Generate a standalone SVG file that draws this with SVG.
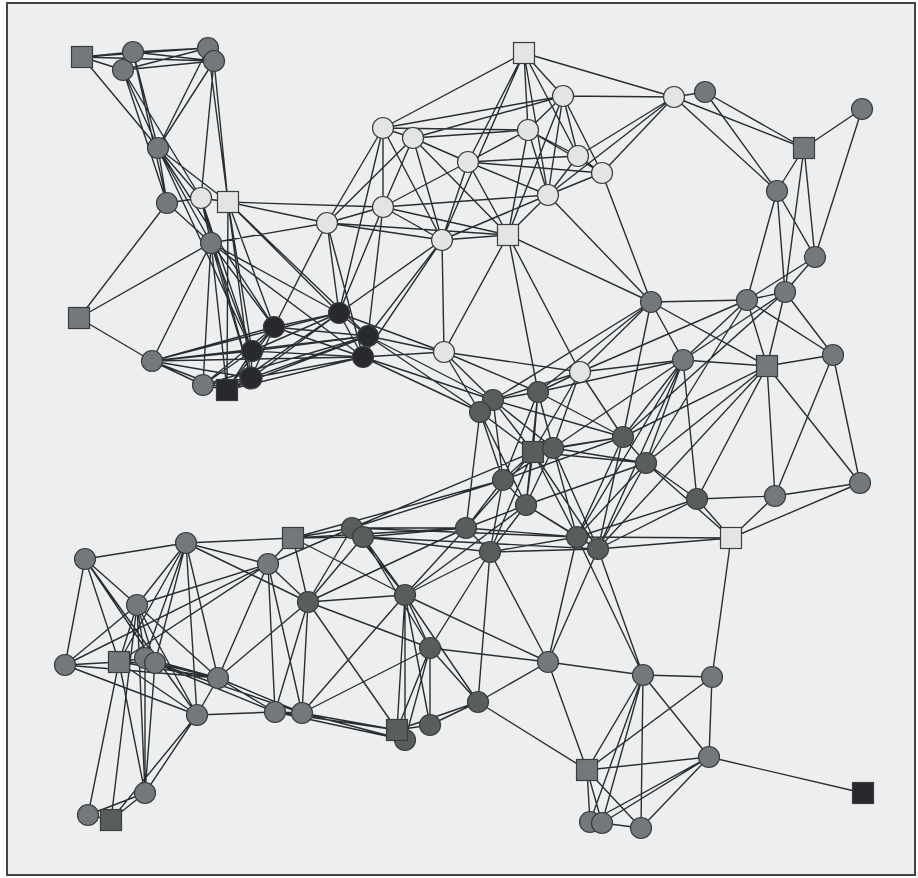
<svg xmlns="http://www.w3.org/2000/svg" width="918" height="878" viewBox="0 0 918 878">
<style>
.e path{stroke:#2a2e30;stroke-width:1.4;fill:none}
.n circle,.n rect{stroke:#3a3d3e;stroke-width:1.2}
.g circle,.g rect{fill:#74787a}
.m circle,.m rect{fill:#585d5e}
.d circle,.d rect{fill:#28292c}
.l circle,.l rect{fill:#e3e4e4}
</style>
<rect x="0" y="0" width="918" height="878" fill="#ffffff"/>
<rect x="7" y="3" width="908" height="872" fill="#edeeef" stroke="#444" stroke-width="2"/>
<g id="connectors" class="e">
<path d="M82 57L133 52M82 57L123 70M82 57L208 48M82 57L214 61M133 52L208 48M133 52L214 61M123 70L208 48M123 70L214 61M133 52L123 70M208 48L214 61M82 57L158 148M133 52L158 148M123 70L158 148M133 52L167 203M123 70L167 203M123 70L201 198M208 48L158 148M214 61L158 148M214 61L201 198M214 61L228 202M208 48L228 202M158 148L167 203M158 148L201 198M158 148L228 202M158 148L211 243M158 148L252 351M158 148L274 327M167 203L201 198M167 203L211 243M167 203L79 318M201 198L228 202M201 198L211 243M201 198L251 378M201 198L252 351"/>
<path d="M228 202L383 207M228 202L327 223M228 202L274 327M228 202L252 351M228 202L251 378M228 202L339 313M228 202L368 336M228 202L227 390M211 243L79 318M211 243L152 361M211 243L203 385M211 243L227 390M211 243L251 378M211 243L252 351M211 243L274 327M211 243L327 223M211 243L339 313M211 243L363 357M79 318L152 361M152 361L203 385M152 361L227 390M152 361L251 378M152 361L252 351M152 361L274 327M152 361L339 313M152 361L368 336M152 361L363 357M203 385L227 390M203 385L251 378M203 385L252 351M203 385L274 327M203 385L368 336"/>
<path d="M227 390L251 378M227 390L252 351M227 390L274 327M227 390L339 313M227 390L368 336M227 390L363 357M251 378L252 351M251 378L274 327M251 378L339 313M251 378L368 336M251 378L363 357M252 351L274 327M252 351L339 313M252 351L368 336M252 351L363 357M274 327L339 313M274 327L368 336M274 327L363 357M274 327L327 223M339 313L368 336M339 313L363 357M339 313L327 223M339 313L383 207M339 313L442 240M339 313L383 128M339 313L444 352M368 336L363 357M368 336L383 207M368 336L442 240M368 336L444 352M368 336L493 400M368 336L480 412M363 357L444 352M363 357L493 400M363 357L480 412M363 357L442 240M363 357L327 223"/>
<path d="M524 53L383 128M524 53L468 162M524 53L442 240M524 53L528 130M524 53L548 195M524 53L563 96M524 53L674 97M524 53L578 156M563 96L413 138M563 96L528 130M563 96L578 156M563 96L602 173M563 96L548 195M563 96L508 235M563 96L674 97M563 96L383 128M383 128L413 138M383 128L383 207M383 128L327 223M383 128L442 240M383 128L528 130M413 138L528 130M413 138L468 162M413 138L383 207M413 138L327 223M413 138L442 240M413 138L508 235M528 130L468 162M528 130L578 156M528 130L548 195M528 130L508 235M528 130L602 173M468 162L578 156M468 162L602 173M468 162L548 195M468 162L383 207M468 162L442 240M468 162L508 235M578 156L602 173M578 156L548 195M578 156L674 97M602 173L548 195M602 173L674 97M602 173L651 302M548 195L508 235M548 195L442 240M548 195L651 302M548 195L674 97M548 195L383 207M383 207L327 223M383 207L442 240M383 207L508 235M327 223L442 240M327 223L508 235M442 240L508 235M442 240L444 352"/>
<path d="M508 235L444 352M508 235L580 372M508 235L538 392M508 235L651 302M444 352L580 372M444 352L493 400M444 352L480 412M444 352L538 392M580 372L538 392M580 372L493 400M580 372L651 302M580 372L683 360M580 372L623 437M580 372L553 448M580 372L533 452M580 372L747 300M674 97L705 92M674 97L804 148M674 97L777 191"/>
<path d="M705 92L804 148M705 92L777 191M862 109L804 148M862 109L815 257M804 148L777 191M804 148L815 257M804 148L785 292M777 191L815 257M777 191L785 292M777 191L747 300M815 257L785 292M815 257L747 300M785 292L747 300M785 292L683 360M785 292L767 366M785 292L833 355M785 292L623 437M747 300L651 302M747 300L683 360M747 300L767 366M747 300L833 355M747 300L646 463M651 302L683 360M651 302L767 366M651 302L623 437M651 302L538 392M651 302L493 400M683 360L767 366M683 360L623 437M683 360L646 463M683 360L697 499M683 360L538 392M683 360L553 448M683 360L577 537M683 360L598 549M767 366L833 355M767 366L623 437M767 366L646 463M767 366L697 499M767 366L775 496M767 366L860 483M767 366L598 549M833 355L775 496M833 355L860 483"/>
<path d="M623 437L646 463M623 437L538 392M623 437L533 452M623 437L553 448M623 437L503 480M623 437L577 537M623 437L598 549M623 437L493 400M646 463L697 499M646 463L731 538M646 463L533 452M646 463L553 448M646 463L577 537M646 463L598 549M646 463L526 505M697 499L775 496M697 499L731 538M697 499L577 537M697 499L598 549M775 496L860 483M775 496L731 538M860 483L731 538M731 538L598 549M731 538L577 537M731 538L712 677"/>
<path d="M493 400L480 412M493 400L538 392M493 400L533 452M493 400L503 480M493 400L553 448M480 412L503 480M480 412L466 528M480 412L533 452M480 412L526 505M538 392L533 452M538 392L553 448M538 392L503 480M538 392L526 505M533 452L553 448M533 452L503 480M533 452L526 505M533 452L466 528M533 452L490 552M533 452L577 537M533 452L598 549M533 452L352 528M553 448L526 505M553 448L577 537M553 448L598 549M553 448L503 480M503 480L526 505M503 480L466 528M503 480L490 552M503 480L352 528M503 480L293 538M526 505L466 528M526 505L490 552M526 505L577 537M526 505L598 549M526 505L405 595M466 528L490 552M466 528L352 528M466 528L363 537M466 528L577 537M466 528L405 595M466 528L293 538M466 528L308 602M490 552L577 537M490 552L598 549M490 552L405 595M490 552L430 648M490 552L548 662M490 552L478 702M490 552L363 537M352 528L363 537M352 528L293 538M352 528L268 564M352 528L308 602M352 528L405 595M352 528L577 537M363 537L405 595M363 537L430 648M363 537L598 549M363 537L308 602M577 537L598 549M577 537L548 662M577 537L643 675M598 549L548 662M598 549L643 675"/>
<path d="M85 559L186 543M85 559L137 605M85 559L65 665M85 559L119 662M85 559L155 663M85 559L197 715M186 543L293 538M186 543L268 564M186 543L137 605M186 543L119 662M186 543L145 658M186 543L155 663M186 543L218 678M186 543L308 602M186 543L197 715M293 538L268 564M293 538L308 602M293 538L405 595M293 538L363 537M268 564L137 605M268 564L308 602M268 564L218 678M268 564L275 712M268 564L302 713M268 564L119 662M268 564L65 665M137 605L65 665M137 605L119 662M137 605L145 658M137 605L155 663M137 605L218 678M137 605L197 715M137 605L145 793M137 605L111 820M308 602L405 595M308 602L275 712M308 602L302 713M308 602L397 730M308 602L430 648M308 602L218 678M405 595L430 648M405 595L397 730M405 595L405 740M405 595L430 725M405 595L548 662M405 595L302 713M405 595L478 702"/>
<path d="M65 665L119 662M65 665L218 678M65 665L197 715M119 662L145 658M119 662L155 663M119 662L197 715M119 662L88 815M119 662L145 793M119 662L218 678M145 658L155 663M145 658L218 678M145 658L145 793M155 663L218 678M155 663L275 712M155 663L302 713M155 663L145 793M218 678L197 715M218 678L275 712M218 678L302 713M197 715L275 712M197 715L145 793M197 715L111 820M275 712L302 713M275 712L397 730M275 712L405 740M302 713L397 730M302 713L430 648M302 713L405 740M430 648L548 662M430 648L397 730M430 648L430 725M430 648L478 702M430 648L405 740M548 662L478 702M548 662L587 770M548 662L643 675M478 702L430 725M478 702L397 730M478 702L587 770M397 730L405 740M397 730L430 725M145 793L111 820M88 815L111 820M145 793L88 815"/>
<path d="M643 675L712 677M643 675L709 757M643 675L641 828M643 675L602 823M643 675L590 822M643 675L587 770M712 677L709 757M712 677L587 770M709 757L863 793M709 757L641 828M709 757L602 823M709 757L590 822M709 757L587 770M641 828L602 823M587 770L602 823M587 770L590 822M587 770L641 828"/>
</g>
<g id="nodes">
<g id="A1" class="n g"><rect x="71.5" y="46.5" width="21" height="21"/></g>
<g id="A3" class="n g"><circle cx="123" cy="70" r="10.5"/></g>
<g id="A2" class="n g"><circle cx="133" cy="52" r="10.5"/></g>
<g id="A4" class="n g"><circle cx="208" cy="48" r="10.5"/></g>
<g id="A5" class="n g"><circle cx="214" cy="61" r="10.5"/></g>
<g id="A6" class="n g"><circle cx="158" cy="148" r="10.5"/></g>
<g id="A7" class="n g"><circle cx="167" cy="203" r="10.5"/></g>
<g id="A8" class="n l"><circle cx="201" cy="198" r="10.5"/></g>
<g id="A9" class="n l"><rect x="217.5" y="191.5" width="21" height="21"/></g>
<g id="A10" class="n g"><circle cx="211" cy="243" r="10.5"/></g>
<g id="A11" class="n g"><rect x="68.5" y="307.5" width="21" height="21"/></g>
<g id="A12" class="n g"><circle cx="152" cy="361" r="10.5"/></g>
<g id="A13" class="n g"><circle cx="203" cy="385" r="10.5"/></g>
<g id="D4" class="n d"><circle cx="274" cy="327" r="10.5"/></g>
<g id="D3" class="n d"><circle cx="252" cy="351" r="10.5"/></g>
<g id="D2" class="n d"><circle cx="251" cy="378" r="11"/></g>
<g id="D1" class="n d"><rect x="216.5" y="379.5" width="21" height="21"/></g>
<g id="D5" class="n d"><circle cx="339" cy="313" r="10.5"/></g>
<g id="D6" class="n d"><circle cx="368" cy="336" r="10.5"/></g>
<g id="D7" class="n d"><circle cx="363" cy="357" r="10.5"/></g>
<g id="L1" class="n l"><rect x="513.5" y="42.5" width="21" height="21"/></g>
<g id="L2" class="n l"><circle cx="563" cy="96" r="10.5"/></g>
<g id="L3" class="n l"><circle cx="383" cy="128" r="10.5"/></g>
<g id="L4" class="n l"><circle cx="413" cy="138" r="10.5"/></g>
<g id="L5" class="n l"><circle cx="528" cy="130" r="10.5"/></g>
<g id="L6" class="n l"><circle cx="468" cy="162" r="10.5"/></g>
<g id="L7" class="n l"><circle cx="578" cy="156" r="10.5"/></g>
<g id="L8" class="n l"><circle cx="602" cy="173" r="10.5"/></g>
<g id="L9" class="n l"><circle cx="548" cy="195" r="10.5"/></g>
<g id="L10" class="n l"><circle cx="383" cy="207" r="10.5"/></g>
<g id="L11" class="n l"><circle cx="327" cy="223" r="10.5"/></g>
<g id="L12" class="n l"><circle cx="442" cy="240" r="10.5"/></g>
<g id="L13" class="n l"><rect x="497.5" y="224.5" width="21" height="21"/></g>
<g id="L14" class="n l"><circle cx="444" cy="352" r="10.5"/></g>
<g id="L15" class="n l"><circle cx="580" cy="372" r="10.5"/></g>
<g id="L16" class="n l"><circle cx="674" cy="97" r="10.5"/></g>
<g id="R1" class="n g"><circle cx="705" cy="92" r="10.5"/></g>
<g id="R2" class="n g"><circle cx="862" cy="109" r="10.5"/></g>
<g id="R3" class="n g"><rect x="793.5" y="137.5" width="21" height="21"/></g>
<g id="R4" class="n g"><circle cx="777" cy="191" r="10.5"/></g>
<g id="R5" class="n g"><circle cx="815" cy="257" r="10.5"/></g>
<g id="R6" class="n g"><circle cx="785" cy="292" r="10.5"/></g>
<g id="R7" class="n g"><circle cx="747" cy="300" r="10.5"/></g>
<g id="R8" class="n g"><circle cx="651" cy="302" r="10.5"/></g>
<g id="R9" class="n g"><circle cx="683" cy="360" r="10.5"/></g>
<g id="R10" class="n g"><rect x="756.5" y="355.5" width="21" height="21"/></g>
<g id="R11" class="n g"><circle cx="833" cy="355" r="10.5"/></g>
<g id="R12" class="n m"><circle cx="623" cy="437" r="10.5"/></g>
<g id="R13" class="n m"><circle cx="646" cy="463" r="10.5"/></g>
<g id="R14" class="n m"><circle cx="697" cy="499" r="10.5"/></g>
<g id="R15" class="n g"><circle cx="775" cy="496" r="10.5"/></g>
<g id="R16" class="n g"><circle cx="860" cy="483" r="10.5"/></g>
<g id="R17" class="n l"><rect x="720.5" y="527.5" width="21" height="21"/></g>
<g id="M1" class="n m"><circle cx="493" cy="400" r="10.5"/></g>
<g id="M2" class="n m"><circle cx="480" cy="412" r="10.5"/></g>
<g id="M3" class="n m"><circle cx="538" cy="392" r="10.5"/></g>
<g id="M4" class="n m"><rect x="522.5" y="441.5" width="21" height="21"/></g>
<g id="M5" class="n m"><circle cx="553" cy="448" r="10.5"/></g>
<g id="M6" class="n m"><circle cx="503" cy="480" r="10.5"/></g>
<g id="M7" class="n m"><circle cx="526" cy="505" r="10.5"/></g>
<g id="M8" class="n m"><circle cx="466" cy="528" r="10.5"/></g>
<g id="M9" class="n m"><circle cx="490" cy="552" r="10.5"/></g>
<g id="M10" class="n m"><circle cx="352" cy="528" r="10.5"/></g>
<g id="M11" class="n m"><circle cx="363" cy="537" r="10.5"/></g>
<g id="M12" class="n m"><circle cx="577" cy="537" r="10.5"/></g>
<g id="M13" class="n m"><circle cx="598" cy="549" r="10.5"/></g>
<g id="B1" class="n g"><circle cx="85" cy="559" r="10.5"/></g>
<g id="B2" class="n g"><circle cx="186" cy="543" r="10.5"/></g>
<g id="B3" class="n g"><rect x="282.5" y="527.5" width="21" height="21"/></g>
<g id="B4" class="n g"><circle cx="268" cy="564" r="10.5"/></g>
<g id="B5" class="n g"><circle cx="137" cy="605" r="10.5"/></g>
<g id="B6" class="n m"><circle cx="308" cy="602" r="10.5"/></g>
<g id="B7" class="n m"><circle cx="405" cy="595" r="10.5"/></g>
<g id="B8" class="n g"><circle cx="65" cy="665" r="10.5"/></g>
<g id="B9" class="n g"><rect x="108.5" y="651.5" width="21" height="21"/></g>
<g id="B10" class="n g"><circle cx="145" cy="658" r="10.5"/></g>
<g id="B11" class="n g"><circle cx="155" cy="663" r="10.5"/></g>
<g id="B12" class="n g"><circle cx="218" cy="678" r="10.5"/></g>
<g id="B13" class="n g"><circle cx="197" cy="715" r="10.5"/></g>
<g id="B14" class="n g"><circle cx="275" cy="712" r="10.5"/></g>
<g id="B15" class="n g"><circle cx="302" cy="713" r="10.5"/></g>
<g id="B16" class="n m"><circle cx="430" cy="648" r="10.5"/></g>
<g id="B17" class="n g"><circle cx="548" cy="662" r="10.5"/></g>
<g id="B18" class="n m"><circle cx="478" cy="702" r="10.5"/></g>
<g id="B20" class="n m"><circle cx="405" cy="740" r="10.5"/></g>
<g id="B19" class="n m"><rect x="386.5" y="719.5" width="21" height="21"/></g>
<g id="B21" class="n m"><circle cx="430" cy="725" r="10.5"/></g>
<g id="B22" class="n g"><circle cx="145" cy="793" r="10.5"/></g>
<g id="B23" class="n g"><circle cx="88" cy="815" r="10.5"/></g>
<g id="B24" class="n m"><rect x="100.5" y="809.5" width="21" height="21"/></g>
<g id="C1" class="n g"><circle cx="643" cy="675" r="10.5"/></g>
<g id="C2" class="n g"><circle cx="712" cy="677" r="10.5"/></g>
<g id="C3" class="n g"><circle cx="709" cy="757" r="10.5"/></g>
<g id="C4" class="n d"><rect x="852.5" y="782.5" width="21" height="21"/></g>
<g id="C5" class="n g"><circle cx="641" cy="828" r="10.5"/></g>
<g id="C7" class="n g"><circle cx="590" cy="822" r="10.5"/></g>
<g id="C6" class="n g"><circle cx="602" cy="823" r="10.5"/></g>
<g id="C8" class="n g"><rect x="576.5" y="759.5" width="21" height="21"/></g>
</g>
</svg>
